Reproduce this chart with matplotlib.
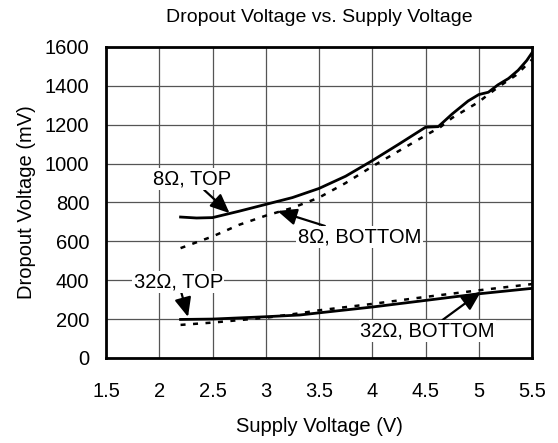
import matplotlib
matplotlib.use('Agg')
import matplotlib.pyplot as plt

plt.rcParams['font.family'] = ['Liberation Sans', 'DejaVu Sans']

# 8 ohm, top (solid)
x_8top = [2.2, 2.35, 2.5, 2.75, 3.0, 3.25, 3.5, 3.75, 4.0, 4.25, 4.5, 4.62, 4.75, 4.9, 5.0, 5.09, 5.18, 5.28, 5.37, 5.45, 5.5]
y_8top = [725, 720, 722, 755, 790, 825, 872, 935, 1015, 1100, 1187, 1190, 1255, 1322, 1355, 1367, 1405, 1438, 1480, 1530, 1570]

# 8 ohm, bottom (dashed)
x_8bot = [2.2, 2.5, 2.75, 3.0, 3.25, 3.5, 3.75, 4.0, 4.25, 4.5, 4.64, 4.75, 5.0, 5.1, 5.2, 5.35, 5.5]
y_8bot = [565, 625, 685, 732, 772, 825, 900, 985, 1065, 1145, 1188, 1235, 1317, 1360, 1400, 1455, 1535]

# 32 ohm, top (solid)
x_32top = [2.2, 2.5, 3.0, 3.32, 3.5, 4.0, 4.5, 5.0, 5.5]
y_32top = [198, 200, 212, 221, 232, 262, 296, 330, 358]

# 32 ohm, bottom (dashed)
x_32bot = [2.2, 2.5, 3.0, 3.32, 3.5, 4.0, 4.5, 5.0, 5.5]
y_32bot = [170, 182, 207, 230, 245, 278, 314, 348, 380]

x_ticks = [1.5, 2, 2.5, 3, 3.5, 4, 4.5, 5, 5.5]
x_tick_labels = ['1.5', '2', '2.5', '3', '3.5', '4', '4.5', '5', '5.5']
y_ticks = [0, 200, 400, 600, 800, 1000, 1200, 1400, 1600]

fig = plt.figure(figsize=(5.58, 4.43), dpi=100)
ax = fig.add_axes([0.19, 0.192, 0.7634, 0.702])

ax.plot(x_8top, y_8top, color='black', lw=2.0, zorder=3)
ax.plot(x_8bot, y_8bot, color='black', lw=1.8, ls=(0, (2, 3)), zorder=3)
ax.plot(x_32top, y_32top, color='black', lw=2.0, zorder=3)
ax.plot(x_32bot, y_32bot, color='black', lw=1.8, ls=(0, (2, 3)), zorder=3)

ax.set_xlim(1.5, 5.5)
ax.set_ylim(0, 1600)
ax.set_xticks(x_ticks)
ax.set_xticklabels(x_tick_labels)
ax.set_yticks(y_ticks)
ax.tick_params(axis='x', length=0, labelsize=14.5, pad=17)
ax.tick_params(axis='y', length=0, labelsize=14.5, pad=12)
ax.grid(True, color='#555555', lw=0.9)
ax.set_axisbelow(True)
for s in ax.spines.values():
    s.set_linewidth(2)

ax.set_xlabel('Supply Voltage (V)', fontsize=14.5, labelpad=12)
ax.set_ylabel('Dropout Voltage (mV)', fontsize=14.5, labelpad=6)
ax.set_title('Dropout Voltage vs. Supply Voltage', fontsize=14, pad=18)

box = dict(facecolor='white', edgecolor='none', pad=1)
arrow = dict(arrowstyle='-|>,head_length=0.8,head_width=0.35', color='black', lw=1.6, shrinkA=0, shrinkB=0)

ax.annotate('8Ω, TOP', xy=(2.66, 745), xytext=(2.31, 920), fontsize=14.5,
            ha='center', va='center', bbox=box, arrowprops=arrow, zorder=4)
ax.annotate('8Ω, BOTTOM', xy=(3.11, 756), xytext=(3.88, 623), fontsize=14.5,
            ha='center', va='center', bbox=box, arrowprops=arrow, zorder=4)
ax.annotate('32Ω, TOP', xy=(2.27, 211), xytext=(2.18, 391), fontsize=14.5,
            ha='center', va='center', bbox=box, arrowprops=arrow, zorder=4)
ax.annotate('32Ω, BOTTOM', xy=(5.02, 340), xytext=(4.52, 139), fontsize=14.5,
            ha='center', va='center', bbox=box, arrowprops=arrow, zorder=4)

fig.savefig('out.png', dpi=100)
